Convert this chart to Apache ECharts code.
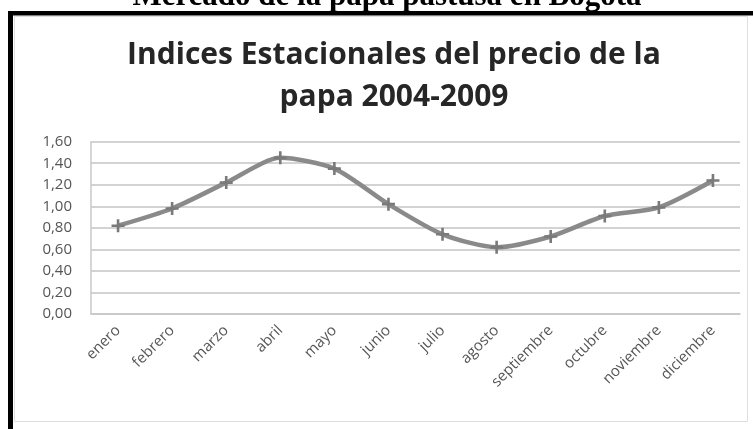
<!DOCTYPE html>
<html>
<head>
<meta charset="utf-8">
<script src="https://cdn.jsdelivr.net/npm/echarts@6/dist/echarts.min.js"></script>
<style>
  html, body { margin: 0; padding: 0; background: #fff; }
  #chart { width: 753px; height: 429px; }
</style>
</head>
<body>
<div id="chart"></div>
<script>
// Seasonal price indices of potato (papa pastusa), Bogotá, 2004-2009
const months = ['enero', 'febrero', 'marzo', 'abril', 'mayo', 'junio',
  'julio', 'agosto', 'septiembre', 'octubre', 'noviembre', 'diciembre'];
const indices = [0.82, 0.98, 1.22, 1.45, 1.35, 1.02, 0.74, 0.62, 0.72, 0.91, 0.99, 1.24];
const headerText = 'Mercado de la papa pastusa en Bogotá';
const chartTitle = 'Indices Estacionales del precio de la\npapa 2004-2009';

const uiFont = '"Open Sans", Lato, sans-serif';
const plusMarker = 'path://M4,0H6V4H10V6H6V10H4V6H0V4H4Z';

const chart = echarts.init(document.getElementById('chart'), null, { renderer: 'canvas' });

chart.setOption({
  backgroundColor: '#ffffff',
  animation: false,
  title: {
    text: chartTitle,
    left: 389,
    textAlign: 'center',
    top: 29,
    textStyle: {
      fontFamily: uiFont,
      fontSize: 30,
      fontWeight: 'bold',
      color: '#262626',
      lineHeight: 42
    }
  },
  graphic: [
    // chart area outline
    {
      type: 'rect', z: 0, silent: true,
      shape: { x: 14.5, y: 16.5, width: 733, height: 405 },
      style: { fill: '#ffffff', stroke: '#dedede', lineWidth: 1 }
    },
    // header caption above the frame
    {
      type: 'text', z: 5, silent: true,
      x: 387, y: 12,
      style: {
        text: headerText,
        fontFamily: '"Liberation Serif", "DejaVu Serif", serif',
        fontWeight: 'bold',
        fontSize: 31,
        fill: '#000',
        align: 'center',
        verticalAlign: 'bottom'
      }
    },
    // black frame: top and left edges
    {
      type: 'rect', z: 10, silent: true,
      shape: { x: 8, y: 11, width: 745, height: 4.5 },
      style: { fill: '#000' }
    },
    {
      type: 'rect', z: 10, silent: true,
      shape: { x: 8, y: 11, width: 5, height: 418 },
      style: { fill: '#000' }
    }
  ],
  grid: {
    left: 91,
    right: 13,
    top: 141.7,
    bottom: 115,
    containLabel: false
  },
  xAxis: {
    type: 'category',
    data: months,
    boundaryGap: true,
    axisLine: { show: true, lineStyle: { color: '#c8c8c8', width: 1.5 } },
    axisTick: { show: false },
    axisLabel: {
      rotate: 45,
      margin: 14,
      fontFamily: uiFont,
      fontSize: 15,
      color: '#555555'
    },
    splitLine: { show: false }
  },
  yAxis: {
    type: 'value',
    min: 0,
    max: 1.6,
    interval: 0.2,
    axisLine: { show: true, lineStyle: { color: '#c8c8c8', width: 1.5 } },
    axisTick: { show: false },
    axisLabel: {
      margin: 19,
      fontFamily: uiFont,
      fontSize: 15,
      color: '#555555',
      formatter: v => v.toFixed(2).replace('.', ',')
    },
    splitLine: { show: true, lineStyle: { color: '#d3d3d3', width: 1.8 } }
  },
  series: [{
    type: 'line',
    data: indices,
    smooth: 0.25,
    symbol: plusMarker,
    symbolSize: 13,
    showAllSymbol: true,
    lineStyle: { color: '#8a8a8a', width: 4.5 },
    itemStyle: { color: '#7a7a7a' },
    z: 3
  }]
});
</script>
</body>
</html>
